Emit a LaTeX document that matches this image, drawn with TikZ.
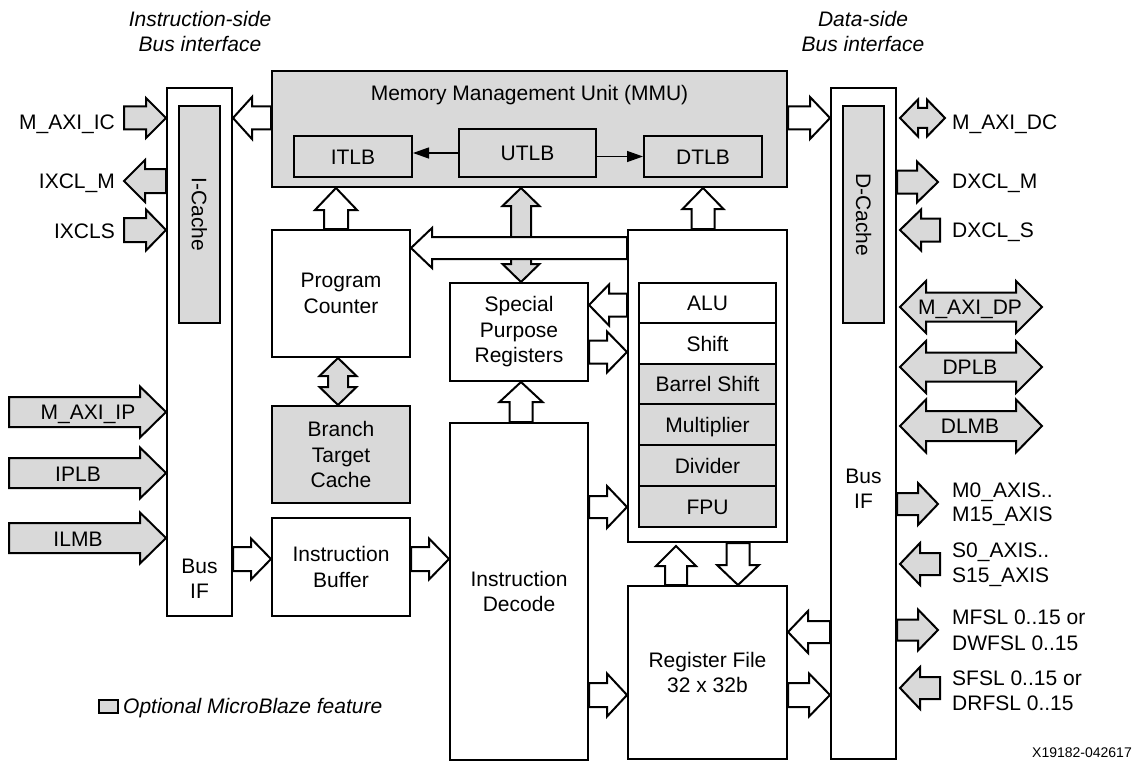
\documentclass[tikz,border=0pt]{standalone}
\usepackage{fontspec}
\setmainfont{Liberation Sans}
\usetikzlibrary{calc,arrows.meta}
\definecolor{optgray}{RGB}{217,217,217}
\tikzset{
  box/.style={draw, line width=2pt, fill=white, inner sep=0pt, align=center},
  optbox/.style={box, fill=optgray},
  row/.style={text height=15pt, text depth=0pt},
  warrow/.style={draw, line width=2pt, fill=white, line join=miter},
  garrow/.style={draw, line width=2pt, fill=optgray, line join=miter},
  txt/.style={inner sep=0pt, align=center},
  ltxt/.style={inner sep=0pt, align=left},
  thinarrow/.style={line width=1.3pt, -{Triangle[length=16pt,width=11pt]}},
}
% single block arrow: style, from, to, shaft half width, head half width, head length
\newcommand\sarrow[6]{%
  \path[#1] let \p1=#2, \p2=#3, \n1={atan2((\y2)-(\y1),(\x2)-(\x1))}, \n2={veclen((\x2)-(\x1),(\y2)-(\y1))} in
    [shift={(\p1)}, rotate=\n1]
    (0,#4) -- ({\n2-#6},#4) -- ({\n2-#6},#5) -- (\n2,0) -- ({\n2-#6},-#5) -- ({\n2-#6},-#4) -- (0,-#4) -- cycle;}
% double block arrow
\newcommand\darrow[6]{%
  \path[#1] let \p1=#2, \p2=#3, \n1={atan2((\y2)-(\y1),(\x2)-(\x1))}, \n2={veclen((\x2)-(\x1),(\y2)-(\y1))} in
    [shift={(\p1)}, rotate=\n1]
    (0,0) -- (#6,#5) -- (#6,#4) -- ({\n2-#6},#4) -- ({\n2-#6},#5) -- (\n2,0) -- ({\n2-#6},-#5) -- ({\n2-#6},-#4) -- (#6,-#4) -- (#6,-#5) -- cycle;}
% box node: name, style, x1, y1, x2, y2, text
\newcommand\placebox[7]{\node[#2, minimum width={(#5)-(#3)}, minimum height={(#6)-(#4)}] (#1) at ({((#3)+(#5))/2},{((#4)+(#6))/2}) {#7};}
\begin{document}
\begin{tikzpicture}[x=1pt,y=-1pt,font=\fontsize{21}{25.5}\selectfont]
\useasboundingbox (0,0) rectangle (1137,765);

% headings
\node[txt, font=\fontsize{21}{25.5}\selectfont\itshape] (ihead) at (200,31.5) {Instruction-side\\Bus interface};
\node[txt, font=\fontsize{21}{25.5}\selectfont\itshape] (dhead) at (863,31.5) {Data-side\\Bus interface};

% boxes
\placebox{ibus}{box}{167}{88}{232}{616}{}
\placebox{icache}{optbox}{179}{106}{220}{323}{}
\node[txt, rotate=-90] (icachet) at (icache.center) {I-Cache};
\node[txt] (ibusif) at (199.5,579) {Bus\\IF};

\placebox{mmu}{optbox}{272}{71}{787}{187}{}
\node[txt] (mmut) at (529.5,95) {Memory Management Unit (MMU)};
\placebox{itlb}{optbox,row}{294}{136}{412}{177}{ITLB}
\placebox{utlb}{optbox,row}{459}{129}{596}{177}{UTLB}
\placebox{dtlb}{optbox,row}{644}{136}{762}{177}{DTLB}

\placebox{pc}{box}{272}{230}{410}{357}{Program\\Counter}
\placebox{btc}{optbox}{272}{406}{410}{503}{Branch\\Target\\Cache}
\placebox{ib}{box}{272}{518}{410}{616}{Instruction\\Buffer}

\placebox{spr}{box}{450}{283}{588}{381}{Special\\Purpose\\Registers}
\placebox{id}{box}{450}{423}{588}{760}{Instruction\\Decode}

\placebox{exec}{box}{628}{230}{787}{542}{}
\placebox{alu}{box,row}{639}{283}{776}{323}{ALU}
\placebox{shift}{box,row}{639}{323}{776}{364}{Shift}
\placebox{barrel}{optbox,row}{639}{364}{776}{404}{Barrel Shift}
\placebox{mult}{optbox,row}{639}{404}{776}{445}{Multiplier}
\placebox{div}{optbox,row}{639}{445}{776}{486}{Divider}
\placebox{fpu}{optbox,row}{639}{486}{776}{527}{FPU}

\placebox{rf}{box}{628}{586}{787}{759}{Register File\\32 x 32b}

\placebox{dbus}{box}{831}{88}{896}{759}{}
\placebox{dcache}{optbox}{843}{106}{884}{323}{}
\node[txt, rotate=-90] (dcachet) at (dcache.center) {D-Cache};
\node[txt] (dbusif) at (863.5,489) {Bus\\IF};

% TLB arrows
\draw[thinarrow] (utlb.west) -- (utlb.west -| itlb.east);
\draw[thinarrow] (utlb.east |- dtlb.west) -- (dtlb.west);

% internal block arrows
\sarrow{warrow}{(mmu.west |- 0,118)}{(ibus.east |- 0,118)}{11.5}{21}{19}
\sarrow{warrow}{(mmu.east |- 0,118)}{(dbus.west |- 0,118)}{11.5}{21}{20}
\sarrow{warrow}{(336,0 |- pc.north)}{(336,0 |- mmu.south)}{12}{21}{22}
\darrow{garrow}{(338,0 |- pc.south)}{(338,0 |- btc.north)}{10}{18.5}{18}
\darrow{garrow}{(521,0 |- mmu.south)}{(521,0 |- spr.north)}{10}{18.5}{18}
\sarrow{warrow}{(exec.west |- 0,248)}{(pc.east |- 0,248)}{11}{20}{21}
\sarrow{warrow}{(703,0 |- exec.north)}{(703,0 |- mmu.south)}{11.5}{20.5}{21}
\sarrow{warrow}{(exec.west |- 0,305)}{(spr.east |- 0,305)}{11.5}{20.5}{20}
\sarrow{warrow}{(spr.east |- 0,352)}{(exec.west |- 0,352)}{11.5}{20.5}{20}
\sarrow{warrow}{(521,0 |- id.north)}{(521,0 |- spr.south)}{11.5}{21.5}{20}
\sarrow{warrow}{(id.east |- 0,507)}{(exec.west |- 0,507)}{11}{21}{20}
\sarrow{warrow}{(id.east |- 0,695)}{(rf.west |- 0,695)}{12}{21.5}{20}
\sarrow{warrow}{(676,0 |- rf.north)}{(676,0 |- 0,546)}{11}{20}{20}
\sarrow{warrow}{(738,0 |- exec.south)}{(738,0 |- rf.north)}{11.5}{21}{20}
\sarrow{warrow}{(dbus.west |- 0,632)}{(rf.east |- 0,632)}{11}{21}{20}
\sarrow{warrow}{(rf.east |- 0,695)}{(dbus.west |- 0,695)}{12}{21.5}{21}
\sarrow{warrow}{(ibus.east |- 0,559)}{(ib.west |- 0,559)}{12}{20.5}{20}
\sarrow{warrow}{(ib.east |- 0,559)}{(id.west |- 0,559)}{12}{20.5}{20}

% left side interfaces
\coordinate (ciaxic) at (124,118);
\coordinate (cixclm) at (124,181);
\coordinate (cixcls) at (124,230);
\coordinate (ciaxip) at (9,412);
\coordinate (ciplb) at (9,473);
\coordinate (cilmb) at (9,538);
\sarrow{garrow}{(ciaxic)}{(ibus.west |- ciaxic)}{11.5}{20}{20}
\sarrow{garrow}{(ibus.west |- cixclm)}{(cixclm)}{12}{21}{21}
\sarrow{garrow}{(cixcls)}{(ibus.west |- cixcls)}{12}{20.5}{20}
\sarrow{garrow}{(ciaxip)}{(ibus.west |- ciaxip)}{15}{25.5}{26}
\sarrow{garrow}{(ciplb)}{(ibus.west |- ciplb)}{15}{25.5}{26}
\sarrow{garrow}{(cilmb)}{(ibus.west |- cilmb)}{15}{25.5}{26}
\node[ltxt, anchor=base east] (laxic) at (115,130) {M\_AXI\_IC};
\node[ltxt, anchor=base east] (lixclm) at (115,188) {IXCL\_M};
\node[ltxt, anchor=base east] (lixcls) at (115,238) {IXCLS};
\node[txt, anchor=base] (laxip) at (88,419) {M\_AXI\_IP};
\node[txt, anchor=base] (liplb) at (78,481) {IPLB};
\node[txt, anchor=base] (lilmb) at (78,546) {ILMB};

% right side interfaces
\coordinate (cdaxdc) at (945,118);
\coordinate (cdxclm) at (938,182);
\coordinate (cdxcls) at (940,230);
\coordinate (cdaxdp) at (1042,307);
\coordinate (cdplb) at (1042,367);
\coordinate (cdlmb) at (1042,426);
\coordinate (cmaxis) at (938,504);
\coordinate (csaxis) at (940,564);
\coordinate (cmfsl) at (938,630);
\coordinate (csfsl) at (940,688);
\darrow{garrow}{($(dbus.east |- cdaxdc)+(3,0)$)}{(cdaxdc)}{10}{18.5}{18}
\sarrow{garrow}{(dbus.east |- cdxclm)}{(cdxclm)}{11.5}{20.5}{21}
\sarrow{garrow}{(cdxcls)}{($(dbus.east |- cdxcls)+(3,0)$)}{11.5}{20.5}{21}
\darrow{garrow}{($(dbus.east |- cdaxdp)+(3,0)$)}{(cdaxdp)}{14.5}{26}{26}
\darrow{garrow}{($(dbus.east |- cdplb)+(3,0)$)}{(cdplb)}{14.5}{26}{26}
\darrow{garrow}{($(dbus.east |- cdlmb)+(3,0)$)}{(cdlmb)}{15}{26.5}{26}
\sarrow{garrow}{(dbus.east |- cmaxis)}{(cmaxis)}{11}{21}{20}
\sarrow{garrow}{(csaxis)}{($(dbus.east |- csaxis)+(3,0)$)}{11}{21}{20}
\sarrow{garrow}{(dbus.east |- cmfsl)}{(cmfsl)}{10.5}{20.5}{20}
\sarrow{garrow}{(csfsl)}{($(dbus.east |- csfsl)+(3,0)$)}{11}{21}{20}
\node[ltxt, anchor=base west] (ldaxdc) at (952,130) {M\_AXI\_DC};
\node[ltxt, anchor=base west] (ldxclm) at (952,188) {DXCL\_M};
\node[ltxt, anchor=base west] (ldxcls) at (952,237) {DXCL\_S};
\node[txt, anchor=base] (ldaxdp) at (970,314) {M\_AXI\_DP};
\node[txt, anchor=base] (ldplb) at (970,374) {DPLB};
\node[txt, anchor=base] (ldlmb) at (970,433) {DLMB};
\node[ltxt, anchor=west, font=\fontsize{21}{24}\selectfont] (lmaxis) at (952,504) {M0\_AXIS..\\M15\_AXIS};
\node[ltxt, anchor=west, font=\fontsize{21}{25}\selectfont] (lsaxis) at (952,565) {S0\_AXIS..\\S15\_AXIS};
\node[ltxt, anchor=west, font=\fontsize{21}{26}\selectfont] (lmfsl) at (952,630.5) {MFSL 0..15 or\\DWFSL 0..15};
\node[ltxt, anchor=west, font=\fontsize{21}{25}\selectfont] (lsfsl) at (952,691) {SFSL 0..15 or\\DRFSL 0..15};

% legend
\node[optbox, line width=1.5pt, minimum width=19, minimum height=13] (legbox) at (108.5,706.5) {};
\node[ltxt, anchor=base west, font=\fontsize{21}{25.5}\selectfont\itshape] (legtext) at (123,713) {Optional MicroBlaze feature};

% figure id
\node[ltxt, anchor=base east, font=\fontsize{14}{16}\selectfont] (figid) at (1132,757) {X19182-042617};
\end{tikzpicture}
\end{document}
